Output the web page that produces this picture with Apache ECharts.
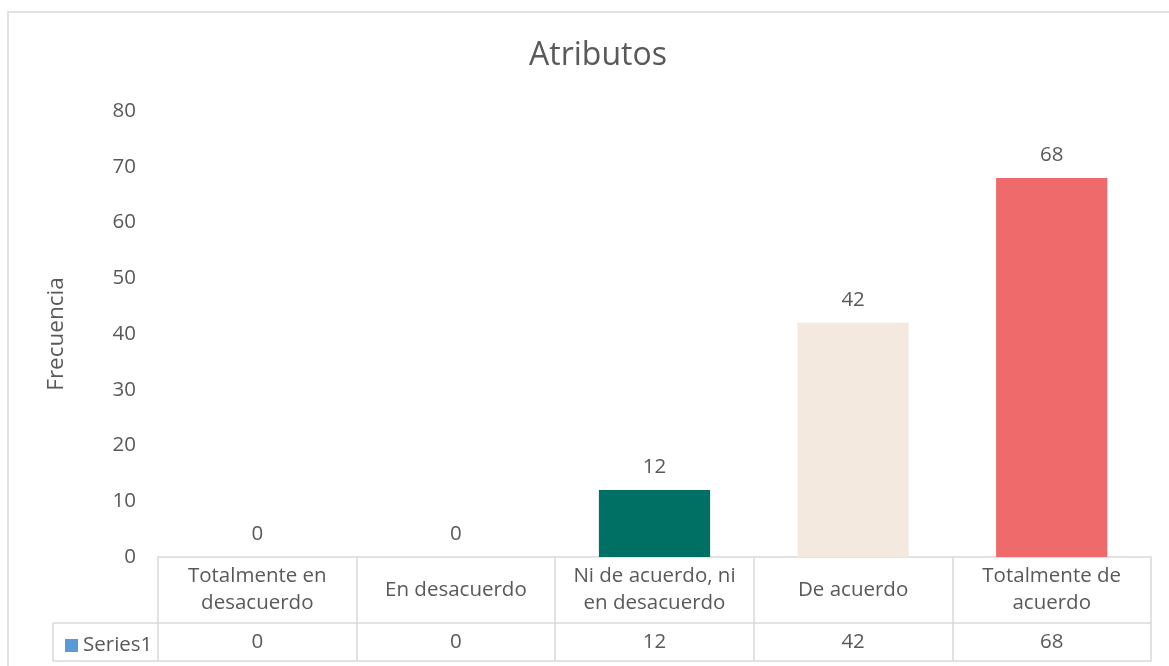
<!DOCTYPE html>
<html>
<head>
<meta charset="utf-8">
<script src="https://cdn.jsdelivr.net/npm/echarts@6/dist/echarts.min.js"></script>
<style>html,body{margin:0;padding:0;background:#fff}#c{width:1169px;height:666px}</style>
</head>
<body>
<div id="c"></div>
<script>
const categories = ['Totalmente en\ndesacuerdo', 'En desacuerdo', 'Ni de acuerdo, ni\nen desacuerdo', 'De acuerdo', 'Totalmente de\nacuerdo'];
const values = [0, 0, 12, 42, 68];
const barColors = ['#5B9BD5', '#5B9BD5', '#007064', '#F3E9DF', '#EE6A6B'];
const seriesName = 'Series1';
const yMin = 0, yMax = 80, yStep = 10;

const FONT = 'Open Sans';
const TXT = '#595959';
const BORDER = '#D9D9D9';
const FS = 20.5;

const chart = echarts.init(document.getElementById('c'));
chart.setOption({
  animation: false,
  backgroundColor: '#fff',
  textStyle: { fontFamily: FONT, color: TXT },
  title: {
    text: 'Atributos', left: 524, top: 35,
    textStyle: { fontFamily: FONT, fontSize: 32, fontWeight: 'normal', color: TXT }
  },
  legend: {
    data: [seriesName], left: 60, top: 630, itemWidth: 13, itemHeight: 13, itemGap: 4,
    icon: 'rect', textStyle: { fontFamily: FONT, fontSize: FS, color: TXT }
  },
  grid: { left: 158, right: 18, top: 111, bottom: 109 },
  xAxis: [
    {
      type: 'category', data: categories, position: 'bottom',
      axisLine: { show: true, lineStyle: { color: BORDER, width: 1.5 } },
      axisTick: { show: true, interval: 0, length: 104, lineStyle: { color: BORDER, width: 1.5 } },
      axisLabel: { interval: 0, margin: 33, verticalAlign: 'middle', lineHeight: 27, fontSize: FS, color: TXT, fontFamily: FONT }
    },
    {
      type: 'category', data: categories, position: 'bottom', offset: 66,
      axisLine: { show: true, lineStyle: { color: BORDER, width: 1.5 } },
      axisTick: { show: false },
      axisLabel: { interval: 0, margin: 19, verticalAlign: 'middle', fontSize: FS, color: TXT, fontFamily: FONT,
        formatter: (v, i) => String(values[i]) }
    },
    {
      type: 'category', data: categories, position: 'bottom', offset: 104,
      axisLine: { show: true, lineStyle: { color: BORDER, width: 1.5 } },
      axisTick: { show: false }, axisLabel: { show: false }
    }
  ],
  yAxis: {
    type: 'value', min: yMin, max: yMax, interval: yStep,
    name: 'Frecuencia', nameLocation: 'middle', nameGap: 90,
    nameTextStyle: { fontFamily: FONT, fontSize: 22.5, color: TXT },
    axisLine: { show: false }, axisTick: { show: false }, splitLine: { show: false },
    axisLabel: { margin: 22, fontSize: FS, color: TXT, fontFamily: FONT }
  },
  series: [{
    name: seriesName, type: 'bar', xAxisIndex: 0, barWidth: '56%',
    itemStyle: { color: '#5B9BD5' },
    data: values.map((v, i) => ({ value: v, itemStyle: { color: barColors[i] } })),
    label: { show: true, position: 'top', distance: 12, fontSize: FS, color: TXT, fontFamily: FONT }
  }],
  graphic: [
    { type: 'rect', shape: { x: 8, y: 12, width: 1180, height: 680 }, style: { fill: 'none', stroke: BORDER, lineWidth: 1.5 }, silent: true, z: -1 },
    { type: 'line', shape: { x1: 53, y1: 623, x2: 158, y2: 623 }, style: { stroke: BORDER, lineWidth: 1.5 } },
    { type: 'line', shape: { x1: 53, y1: 661, x2: 158, y2: 661 }, style: { stroke: BORDER, lineWidth: 1.5 } },
    { type: 'line', shape: { x1: 53, y1: 623, x2: 53, y2: 661 }, style: { stroke: BORDER, lineWidth: 1.5 } }
  ]
});
</script>
</body>
</html>
